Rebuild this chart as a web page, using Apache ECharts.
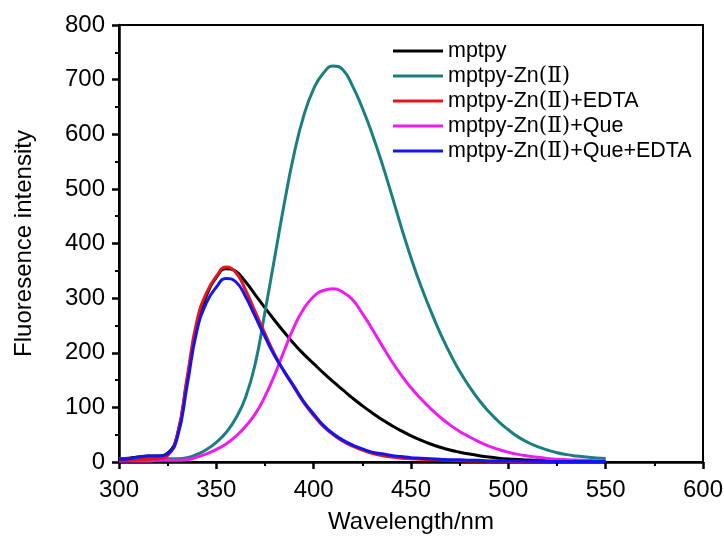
<!DOCTYPE html>
<html><head><meta charset="utf-8">
<script src="https://cdn.jsdelivr.net/npm/echarts@6/dist/echarts.min.js"></script>
<style>html,body{margin:0;padding:0;background:#fff}#c{width:724px;height:549px}</style>
</head><body><div id="c"></div>
<script>
const wavelength = [300,305,310,315,320,325,330,335,340,345,350,355,360,365,370,375,380,385,390,395,400,405,410,415,420,425,430,435,440,445,450,455,460,465,470,475,480,485,490,495,500,505,510,515,520,525,530,535,540,545,550];
const mptpy = [6,7,9,11,11,16,50,150,250,305,338,354,349,330,306,282,259,237,216,197,180,163,147,132,117,103,90,78,67,57,48,40,33,27,22,18,14.5,11.5,9,7,5.5,4.5,3.5,3,2.5,2,1.5,1.5,1,1,1];
const mptpyZn = [6,6,6,6,6,6,6,8,14,23,36,54,80,118,180,275,375,475,565,635,683,712,725,718,688,648,601,548,490,430,374,323,278,236,199,166,138,113,92,74,59,46,36,28,22,17,13.5,11,9,7.5,6.5];
const mptpyZnEDTA = [2,3,4,5,6,12,50,155,258,310,340,357,347,315,275,235,197,165,136,108,85,65,50,38,29,22,16,12,9,7,6,5,4,3.5,3,2.5,2,2,1.5,1.5,1,1,1,1,1,1,1,1,1,1,1];
const mptpyZnQue = [2,2,2,2,3,3,3,4,9,15,23,33,47,65,88,120,160,205,248,281,303,314,317,311,297,272,244,214,185,159,136,116,98,82,68,56,46,37,29,23,18,14,11,8.5,6.5,5,4,3.5,3,2.5,2];
const mptpyZnQueEDTA = [5,6,9,11,11,15,45,140,240,292,320,336,330,303,266,229,194,165,138,110,88,67,52,40,31,24,18,15,12,10,8,7,6,5,4,4,3,3,2,2,2,2,1.5,1.5,1,1,1,1,1,1,1];
const seriesNames = ['mptpy','mptpy-Zn(Ⅱ)','mptpy-Zn(Ⅱ)+EDTA','mptpy-Zn(Ⅱ)+Que','mptpy-Zn(Ⅱ)+Que+EDTA'];
const seriesColors = ['#000000','#1a7f7f','#e8141b','#ee1cee','#1414f0'];
const seriesValues = [mptpy, mptpyZn, mptpyZnEDTA, mptpyZnQue, mptpyZnQueEDTA];
const xTicks = [300,350,400,450,500,550,600];
const yTicks = [0,100,200,300,400,500,600,700,800];

const chart = echarts.init(document.getElementById('c'));
const font = 'Liberation Sans, Arial, sans-serif';
const drawOrder = [0,1,3,2,4];
chart.setOption({
  animation:false,
  grid:{left:119,right:21,top:25,bottom:87,show:true,borderColor:'#000',borderWidth:2,containLabel:false,outerBoundsMode:'none'},
  legend:{
    orient:'vertical',left:388,top:35,itemWidth:50,itemHeight:3,itemGap:3,icon:'rect',
    formatter:n=>n.replace('(Ⅱ)','{r|(Ⅱ)}'),
    textStyle:{fontFamily:font,fontSize:21.5,lineHeight:22,color:'#000',
      rich:{r:{fontFamily:'DejaVu Serif, Liberation Serif, serif',fontSize:21.5,lineHeight:22,color:'#000'}}},
    data:seriesNames
  },
  xAxis:{type:'value',min:300,max:600,interval:50,
    name:'Wavelength/nm',nameLocation:'middle',nameGap:48,
    nameTextStyle:{fontFamily:font,fontSize:24,color:'#000'},
    axisLine:{lineStyle:{color:'#000',width:2.5}},
    axisTick:{show:true,length:7,inside:false,lineStyle:{color:'#000',width:2.5}},
    minorTick:{show:true,splitNumber:2,length:4,lineStyle:{color:'#000',width:2}},
    splitLine:{show:false},
    axisLabel:{fontFamily:font,fontSize:24,color:'#000',margin:16,
      formatter:v=>xTicks.includes(v)?String(v):''}
  },
  yAxis:{type:'value',min:0,max:800,interval:100,
    name:'Fluoresence intensity',nameLocation:'middle',nameGap:83,
    nameTextStyle:{fontFamily:font,fontSize:24,color:'#000'},
    axisLine:{lineStyle:{color:'#000',width:2.5}},
    axisTick:{show:true,length:7,lineStyle:{color:'#000',width:2.5}},
    minorTick:{show:true,splitNumber:2,length:4,lineStyle:{color:'#000',width:2}},
    splitLine:{show:false},
    axisLabel:{fontFamily:font,fontSize:24,color:'#000',margin:14,
      formatter:v=>yTicks.includes(v)?String(v):''}
  },
  series:drawOrder.map(i=>({
    name:seriesNames[i],type:'line',smooth:0.5,showSymbol:false,symbol:'none',
    color:seriesColors[i],
    lineStyle:{width:3,color:seriesColors[i]},
    data:wavelength.map((w,k)=>[w,seriesValues[i][k]])
  }))
});
</script></body></html>
